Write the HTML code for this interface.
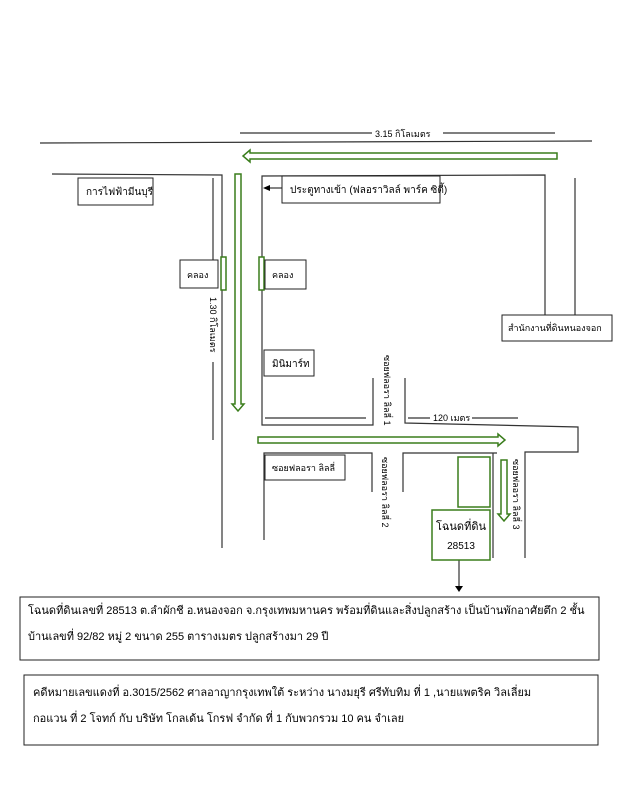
<!DOCTYPE html>
<html><head><meta charset="utf-8"><style>
html,body{margin:0;padding:0;background:#fff;}
svg{display:block;}
text{font-family:"Liberation Sans","DejaVu Sans",sans-serif;fill:#000;}
</style></head><body>
<svg width="619" height="800" viewBox="0 0 619 800" xmlns="http://www.w3.org/2000/svg">
<g stroke="#333" stroke-width="1.2" fill="none">
<line x1="40" y1="143" x2="592" y2="141"/>
<line x1="240" y1="133" x2="372" y2="133"/>
<line x1="443" y1="133" x2="555" y2="133"/>
<!-- left block -->
<polyline points="52,174 222,175 222,548"/>
<line x1="213" y1="178" x2="213" y2="262"/>
<line x1="213" y1="362" x2="213" y2="440"/>
<!-- right block -->
<polyline points="262,390 262,176 545,175 545,318"/>
<line x1="575" y1="178" x2="575" y2="315"/>
<polyline points="265,418 366,418"/>
<polyline points="262,390 262,425 373,425 373,378"/>
<polyline points="405,378 405,423 578,427 578,452 525,452 525,558"/>
<line x1="408" y1="418" x2="430" y2="418"/>
<line x1="472" y1="418" x2="518" y2="418"/>
<polyline points="264,540 264,453 372,453 372,492"/>
<polyline points="403,492 403,453 497,453"/>
<line x1="493" y1="453" x2="493" y2="558"/>
<line x1="459" y1="560" x2="459" y2="588"/>
<line x1="282" y1="188" x2="270" y2="188"/>
</g>
<polygon points="263,188 270,185 270,191" fill="#000"/>
<polygon points="455,586 463,586 459,592" fill="#000"/>
<text x="375" y="137" font-size="9">3.15 กิโลเมตร</text>
<text x="433" y="421" font-size="9">120 เมตร</text>
<!-- green arrows -->
<g stroke="#3a7d1c" stroke-width="1.5" fill="#fff">
<polygon points="557,153 250,153 250,150 243,156 250,162 250,159 557,159"/>
<polygon points="235,174 241,174 241,404 244,404 238,411 232,404 235,404"/>
<polygon points="258,437 498,437 498,434 505,440 498,446 498,443 258,443"/>
<polygon points="501,460 507,460 507,514 510,514 504,521 498,514 501,514"/>
<rect x="221" y="257" width="5" height="33"/>
<rect x="259" y="257" width="5" height="33"/>
<rect x="458" y="457" width="32" height="50"/>
<rect x="432" y="510" width="58" height="50"/>
</g>
<text x="461" y="530" font-size="11" text-anchor="middle">โฉนดที่ดิน</text>
<text x="461" y="549" font-size="10" text-anchor="middle">28513</text>
<!-- label boxes -->
<g stroke="#222" stroke-width="1" fill="#fff">
<rect x="78" y="178" width="75" height="27"/>
<rect x="282" y="176" width="158" height="27"/>
<rect x="180" y="260" width="38" height="28"/>
<rect x="265" y="260" width="41" height="29"/>
<rect x="502" y="315" width="110" height="26"/>
<rect x="264" y="350" width="50" height="26"/>
<rect x="265" y="455" width="80" height="25"/>
<rect x="20" y="597" width="579" height="63"/>
<rect x="24" y="675" width="574" height="70"/>
</g>
<text x="86" y="195" font-size="10">การไฟฟ้ามีนบุรี</text>
<text x="290" y="193" font-size="10">ประตูทางเข้า (ฟลอราวิลล์ พาร์ค ซิตี้)</text>
<text x="187" y="278" font-size="9">คลอง</text>
<text x="272" y="278" font-size="9">คลอง</text>
<text x="508" y="331" font-size="9">สำนักงานที่ดินหนองจอก</text>
<text x="272" y="367" font-size="10">มินิมาร์ท</text>
<text x="272" y="471" font-size="9">ซอยฟลอรา ลิลลี่</text>
<text transform="translate(210,297) rotate(90)" font-size="9">1.30 กิโลเมตร</text>
<text transform="translate(384,355) rotate(90)" font-size="9">ซอยฟลอรา ลิลลี่ 1</text>
<text transform="translate(382,457) rotate(90)" font-size="9">ซอยฟลอรา ลิลลี่ 2</text>
<text transform="translate(513,459) rotate(90)" font-size="9">ซอยฟลอรา ลิลลี่ 3</text>
<text x="28" y="614" font-size="11">โฉนดที่ดินเลขที่ 28513 ต.ลำผักชี อ.หนองจอก จ.กรุงเทพมหานคร พร้อมที่ดินและสิ่งปลูกสร้าง เป็นบ้านพักอาศัยตึก 2 ชั้น</text>
<text x="28" y="640" font-size="11">บ้านเลขที่ 92/82 หมู่ 2 ขนาด 255 ตารางเมตร ปลูกสร้างมา 29 ปี</text>
<text x="33" y="696" font-size="11">คดีหมายเลขแดงที่ อ.3015/2562 ศาลอาญากรุงเทพใต้ ระหว่าง นางมยุรี ศรีทับทิม ที่ 1 ,นายแพตริค วิลเลี่ยม</text>
<text x="33" y="722" font-size="11">กอแวน ที่ 2 โจทก์ กับ บริษัท โกลเด้น โกรฟ จำกัด ที่ 1 กับพวกรวม 10 คน จำเลย</text>
</svg>
</body></html>
